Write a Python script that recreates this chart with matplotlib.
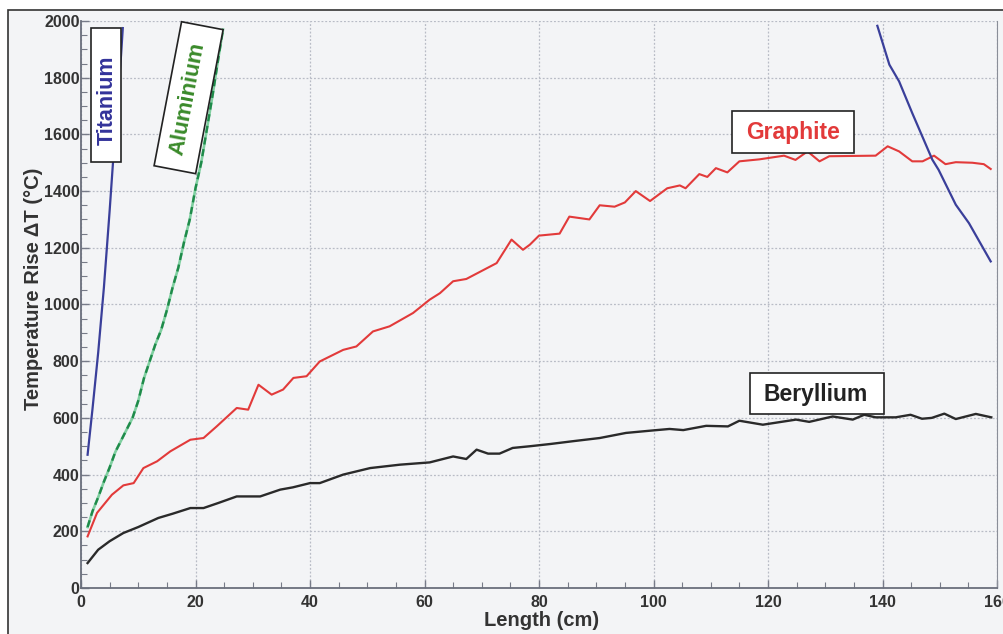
import matplotlib.pyplot as plt
from matplotlib.patches import Rectangle
from matplotlib.ticker import MultipleLocator
from matplotlib.transforms import Affine2D

plt.rcParams['font.family'] = ['Liberation Sans', 'DejaVu Sans']

# Beryllium (black)
be_x = [1.15, 3, 5, 7.4, 10, 13.5, 16, 19.1, 21.4, 24, 27.2, 31.3, 34.8, 37, 40, 41.7,
        45.8, 50.5, 55.7, 60.9, 65, 67.3, 69.1, 71.1, 73.1, 75.4, 78.4, 82, 86, 90.6,
        95.2, 100, 102.8, 105.2, 109.2, 113, 115, 119.1, 124.9, 127.2, 131.3, 134.8,
        136.8, 138.8, 142.3, 144.9, 146.9, 148.6, 150.8, 152.8, 156.3, 159]
be_y = [88, 135, 165, 194, 215, 247, 262, 282, 282, 300, 323, 323, 347, 355, 370, 370,
        400, 423, 435, 443, 464, 455, 488, 474, 474, 494, 500, 508, 518, 529,
        547, 556, 561, 557, 572, 570, 590, 576, 594, 586, 605, 594,
        611, 602, 602, 611, 597, 600, 615, 596, 614, 602]

# Graphite (red)
gr_x = [1.15, 2.8, 5.4, 7.4, 9.2, 10.9, 13.3, 15.6, 19.1, 21.4, 23.7, 27.2, 29.2, 31,
        33.3, 35.3, 37.1, 39.4, 41.7, 45.8, 48.1, 51, 53.9, 58, 60.9, 62.7, 65, 67.3,
        72.6, 75.2, 77.2, 78.4, 80, 83.6, 85.3, 88.8, 90.6, 93.2, 95, 96.9, 99.4,
        102.4, 104.6, 105.6, 108, 109.4, 110.9, 112.9, 115, 118.5, 122.8, 124.8,
        126.9, 129, 130.7, 138.8, 140.9, 142.9, 145.2, 147, 149, 151, 152.8, 155.7,
        157.7, 158.9]
gr_y = [182, 265, 329, 362, 370, 423, 447, 482, 523, 529, 570, 635, 629, 717,
        682, 700, 741, 747, 799, 840, 852, 905, 923, 970, 1017, 1040, 1082, 1090,
        1146, 1229, 1193, 1211, 1243, 1250, 1310, 1300, 1350, 1345, 1360, 1400, 1365,
        1410, 1420, 1410, 1460, 1450, 1481, 1466, 1505, 1512, 1525, 1510,
        1540, 1505, 1523, 1525, 1558, 1540, 1505, 1505, 1525, 1495, 1502, 1500,
        1495, 1478]

# Aluminium (green)
al_x = [1.15, 2, 3, 4, 5, 6, 7, 8, 9, 10, 11, 12, 13, 14, 15, 16, 17, 18, 19, 20,
        21, 22, 23, 24, 24.8]
al_y = [215, 270, 320, 375, 425, 480, 520, 560, 600, 660, 740, 800, 860, 910, 980,
        1060, 1130, 1220, 1300, 1410, 1500, 1620, 1740, 1870, 1970]

# Titanium (blue), two visible pieces
ti_x1 = [1.15, 2, 3, 4, 5, 6, 7, 7.3]
ti_y1 = [470, 630, 830, 1060, 1330, 1620, 1880, 1975]
ti_x2 = [139.1, 141.2, 142.9, 145.2, 148.7, 149.8, 152.8, 155.1, 158.9]
ti_y2 = [1983, 1846, 1787, 1675, 1511, 1475, 1352, 1287, 1152]

W, H = 1004, 634
bg = '#f3f4f6'
fig = plt.figure(figsize=(W / 100, H / 100), dpi=100)
fig.patch.set_facecolor('white')
fig.patches.append(Rectangle((8 / W, -0.1), 1.2, 1.1 - 10 / H,
                             transform=fig.transFigure, facecolor=bg,
                             edgecolor='#333333', linewidth=1.2, zorder=-1))

ax = fig.add_axes([81 / W, 46 / H, 916 / W, 567 / H])
ax.set_facecolor(bg)

ax.plot(be_x, be_y, color='#2a2a2a', lw=1.7, zorder=3)
ax.plot(gr_x, gr_y, color='#e23a3a', lw=1.5, zorder=3)
ax.plot(al_x, al_y, color='#7fcfa0', lw=1.9, zorder=3)
ax.plot(al_x, al_y, color='#1f8a4a', lw=1.7, ls=(0, (3, 2)), zorder=3)
ax.plot(ti_x1, ti_y1, color='#3a3f9a', lw=1.6, zorder=3)
ax.plot(ti_x2, ti_y2, color='#3a3f9a', lw=1.6, zorder=3)

ax.set_xlim(0, 160)
ax.set_ylim(0, 2000)
ax.xaxis.set_major_locator(MultipleLocator(20))
ax.xaxis.set_minor_locator(MultipleLocator(5))
ax.yaxis.set_major_locator(MultipleLocator(200))
ax.yaxis.set_minor_locator(MultipleLocator(50))
ax.tick_params(which='both', direction='in', color='#777b88')
ax.tick_params(which='major', length=6, width=1, labelsize=11.5, labelcolor='#333333')
ax.tick_params(which='minor', length=4, width=0.8)
ax.tick_params(axis='x', which='major', pad=5)
ax.tick_params(axis='y', which='major', pad=1)
for lab in ax.get_xticklabels() + ax.get_yticklabels():
    lab.set_fontweight('bold')

ax.grid(True, which='major', color='#b8bcc6', ls=(0, (1.5, 1.5)), lw=0.9)
ax.spines['top'].set_visible(False)
for s in ['left', 'bottom']:
    ax.spines[s].set_color('#6a6f7c')
    ax.spines[s].set_linewidth(1.3)
ax.spines['right'].set_color('#8a8e98')

ax.set_xlabel('Length (cm)', fontsize=14.5, fontweight='bold', color='#333333')
ax.xaxis.set_label_coords(0.503, -0.041)
ax.set_ylabel('Temperature Rise ΔT (°C)', fontsize=14.5, fontweight='bold', color='#333333')
ax.yaxis.set_label_coords(-0.041, 0.528)


def label_box(cx, cy, w, h, angle, text, tx, ty, color, size):
    # box and text placed in pixel coordinates of the picture (y from top)
    tr = Affine2D().rotate_deg(angle).translate(cx, H - cy)
    fig.patches.append(Rectangle((-w / 2, -h / 2), w, h, transform=tr,
                                 facecolor='white', edgecolor='#222222', lw=1.2, zorder=5))
    fig.text(tx / W, 1 - ty / H, text, rotation=angle, color=color, fontsize=size,
             fontweight='bold', ha='center', va='center', rotation_mode='anchor', zorder=6)


label_box(106, 95, 134, 30, 90, 'Titanium', 107, 100, '#33339a', 15.5)
label_box(188.6, 97.7, 146.6, 42.3, 79.2, 'Aluminium', 188, 99, '#3a8a2a', 16)
label_box(793, 132, 122, 42, 0, 'Graphite', 793, 133, '#e23a3a', 16.5)
label_box(817, 393.5, 134, 41, 0, 'Beryllium', 816, 394, '#222222', 16.5)

fig.savefig('out.png', dpi=100, facecolor=fig.get_facecolor())
